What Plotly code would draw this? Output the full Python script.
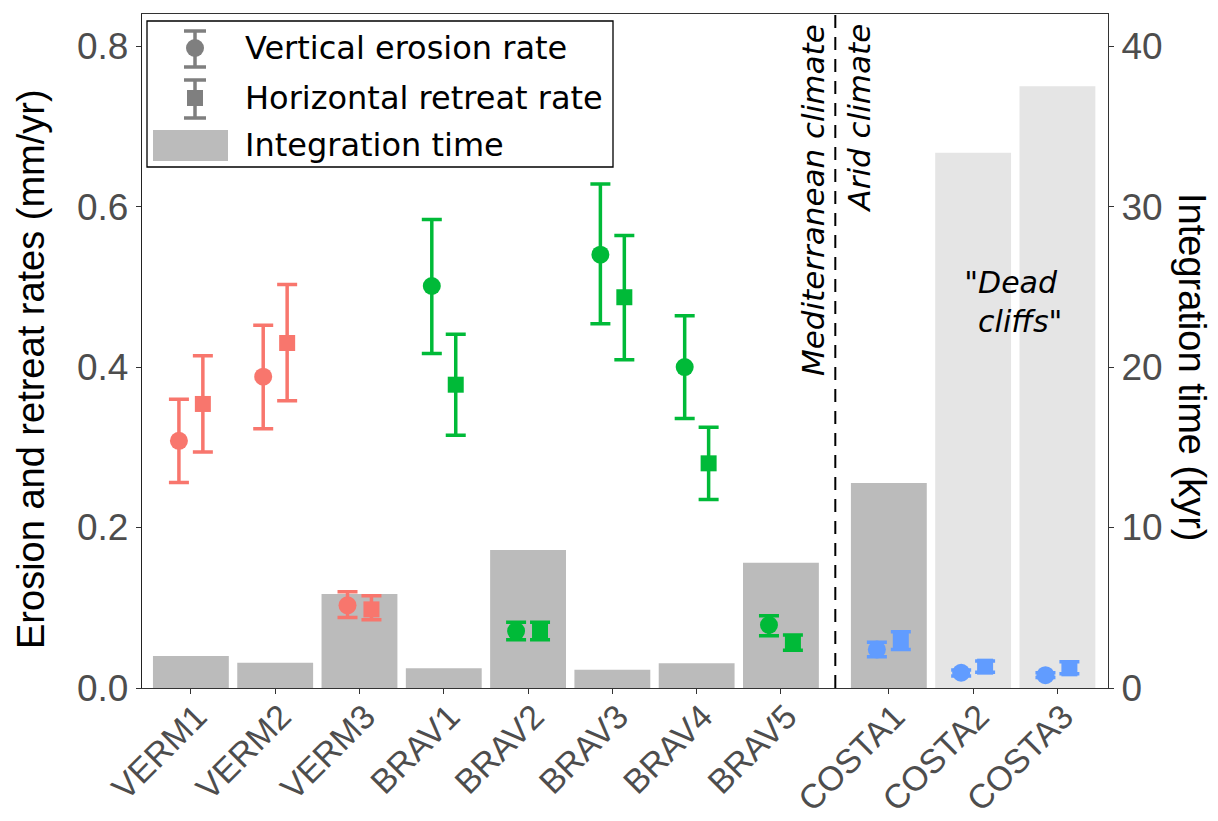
import plotly.graph_objects as go

# ---------------- data ----------------
sites = ["VERM1", "VERM2", "VERM3", "BRAV1", "BRAV2", "BRAV3", "BRAV4", "BRAV5",
         "COSTA1", "COSTA2", "COSTA3"]
area = ["VERM"] * 3 + ["BRAV"] * 5 + ["COSTA"] * 3
climate = ["Mediterranean"] * 8 + ["Arid"] * 3
dead_cliff = [False] * 9 + [True] * 2

integration_kyr = [1.99, 1.58, 5.86, 1.23, 8.6, 1.14, 1.54, 7.81, 12.77, 33.35, 37.5]

vertical_rate = [0.308, 0.388, 0.103, 0.501, 0.071, 0.540, 0.400, 0.0785, 0.048, 0.019, 0.016]
vertical_hi = [0.360, 0.452, 0.120, 0.584, 0.082, 0.628, 0.464, 0.090, 0.057, 0.0224, 0.019]
vertical_lo = [0.256, 0.323, 0.088, 0.417, 0.060, 0.454, 0.336, 0.065, 0.039, 0.015, 0.013]

horizontal_rate = [0.354, 0.430, 0.098, 0.378, 0.071, 0.487, 0.280, 0.0565, 0.0586, 0.0266, 0.0245]
horizontal_hi = [0.414, 0.503, 0.115, 0.441, 0.082, 0.564, 0.325, 0.066, 0.070, 0.0336, 0.0328]
horizontal_lo = [0.294, 0.358, 0.085, 0.315, 0.060, 0.409, 0.235, 0.047, 0.048, 0.0196, 0.0178]

left_ticks = [0.0, 0.2, 0.4, 0.6, 0.8]
right_ticks = [0, 10, 20, 30, 40]

# ---------------- styling / layout constants ----------------
area_colors = {"VERM": "#F8766D", "BRAV": "#00BA38", "COSTA": "#619CFF"}
ARID_GAP = 0.28
DODGE = 0.142
BAR_COLOR = "#BBBBBB"
DEAD_COLOR = "#E5E5E5"
AX_FONT = "Liberation Sans, Arial, sans-serif"
TXT_FONT = "DejaVu Sans, Verdana, sans-serif"

WIN_W, WIN_H = 1218, 821
BODY = 8  # default page margin of the html body
W, H = WIN_W - BODY, WIN_H - BODY
# panel edges in window pixels
PL, PR, PT, PB = 142, 1108, 14, 688

xpos = [i + (ARID_GAP if c == "Arid" else 0.0) for i, c in enumerate(climate)]
n_med = climate.count("Mediterranean")
divider_x = (xpos[n_med - 1] + xpos[n_med]) / 2 + 0.005

fig = go.Figure()

# bars (integration time, right axis -> yaxis 'y')
fig.add_trace(go.Bar(
    x=xpos, y=integration_kyr, width=0.9,
    marker=dict(color=[DEAD_COLOR if d else BAR_COLOR for d in dead_cliff], line=dict(width=0)),
    yaxis="y", showlegend=False, hoverinfo="skip",
))

# points with error bars (rates, left axis -> yaxis 'y2')
for grp, col in area_colors.items():
    idx = [i for i, a in enumerate(area) if a == grp]
    for rate, hi, lo, off, sym, size in [
        (vertical_rate, vertical_hi, vertical_lo, -DODGE, "circle", 18),
        (horizontal_rate, horizontal_hi, horizontal_lo, DODGE, "square", 16),
    ]:
        fig.add_trace(go.Scatter(
            x=[xpos[i] + off for i in idx],
            y=[rate[i] for i in idx],
            mode="markers",
            marker=dict(symbol=sym, size=size, color=col, line=dict(width=0)),
            error_y=dict(type="data", symmetric=False,
                         array=[hi[i] - rate[i] for i in idx],
                         arrayminus=[rate[i] - lo[i] for i in idx],
                         color=col, thickness=3.5, width=10),
            yaxis="y2", showlegend=False,
        ))


def px_x(px):
    return (px - PL) / (PR - PL)


def px_y(py):
    return (PB - py) / (PB - PT)


shapes = []
annotations = []

# climate divider
shapes.append(dict(type="line", xref="x", yref="paper", x0=divider_x, x1=divider_x, y0=0, y1=1,
                   line=dict(color="black", width=2, dash="13px,9px")))

# ---- manual legend ----
LEG_GRAY = "#7F7F7F"
shapes.append(dict(type="rect", xref="paper", yref="paper",
                   x0=px_x(147), x1=px_x(613), y0=px_y(167), y1=px_y(21),
                   line=dict(color="black", width=1.3), fillcolor="white", layer="above"))
for (ytop, ybot, yc, kind) in [(31, 67, 48, "circle"), (80, 118, 98, "square")]:
    shapes.append(dict(type="line", xref="paper", yref="paper",
                       x0=px_x(195), x1=px_x(195), y0=px_y(ybot), y1=px_y(ytop),
                       line=dict(color=LEG_GRAY, width=3.5)))
    for yy in (ytop, ybot):
        shapes.append(dict(type="line", xref="paper", yref="paper",
                           x0=px_x(184), x1=px_x(206), y0=px_y(yy), y1=px_y(yy),
                           line=dict(color=LEG_GRAY, width=3.5)))
    r = 9 if kind == "circle" else 8
    shapes.append(dict(type="circle" if kind == "circle" else "rect", xref="paper", yref="paper",
                       x0=px_x(195 - r), x1=px_x(195 + r), y0=px_y(yc + r), y1=px_y(yc - r),
                       fillcolor=LEG_GRAY, line=dict(width=0)))
shapes.append(dict(type="rect", xref="paper", yref="paper",
                   x0=px_x(153), x1=px_x(228), y0=px_y(161), y1=px_y(130),
                   fillcolor=BAR_COLOR, line=dict(width=0)))
for label, yc in [("Vertical erosion rate", 48), ("Horizontal retreat rate", 98),
                  ("Integration time", 145)]:
    annotations.append(dict(text=label, xref="paper", yref="paper", x=px_x(243), y=px_y(yc),
                            xanchor="left", yanchor="middle", showarrow=False,
                            font=dict(family=TXT_FONT, size=32, color="black")))

# climate labels
annotations.append(dict(text="<i>Mediterranean climate</i>", xref="paper", yref="paper",
                        x=px_x(813), y=px_y(22), xanchor="center", yanchor="top",
                        textangle=-90, showarrow=False,
                        font=dict(family=TXT_FONT, size=31, color="black")))
annotations.append(dict(text="<i>Arid climate</i>", xref="paper", yref="paper",
                        x=px_x(859), y=px_y(22), xanchor="center", yanchor="top",
                        textangle=-90, showarrow=False,
                        font=dict(family=TXT_FONT, size=31, color="black")))
annotations.append(dict(text="<i>\"Dead<br>  cliffs\"</i>", xref="paper", yref="paper",
                        x=px_x(1010), y=px_y(302), xanchor="center", yanchor="middle",
                        align="center", showarrow=False,
                        font=dict(family=TXT_FONT, size=30, color="black")))

# axis titles
annotations.append(dict(text="Erosion and retreat rates (mm/yr)", xref="paper", yref="paper",
                        x=px_x(31), y=px_y(369), xanchor="center", yanchor="middle",
                        textangle=-90, showarrow=False,
                        font=dict(family=AX_FONT, size=38, color="black")))
annotations.append(dict(text="Integration time (kyr)", xref="paper", yref="paper",
                        x=px_x(1192), y=px_y(367), xanchor="center", yanchor="middle",
                        textangle=90, showarrow=False,
                        font=dict(family=AX_FONT, size=38, color="black")))

fig.update_layout(
    width=W, height=H,
    margin=dict(l=PL - BODY, r=WIN_W - PR, t=PT - BODY, b=WIN_H - PB, pad=0, autoexpand=False),
    paper_bgcolor="white", plot_bgcolor="white",
    showlegend=False,
    shapes=shapes, annotations=annotations,
    xaxis=dict(range=[-0.58, 10.88], tickmode="array", tickvals=xpos, ticktext=sites,
               tickangle=-45, ticks="outside", ticklen=5, tickcolor="#333333",
               tickfont=dict(family=AX_FONT, size=34, color="#4D4D4D"),
               ticklabelshift=6, ticklabelstandoff=-11,
               showline=True, linecolor="#333333", linewidth=1.3, mirror=True,
               showgrid=False, zeroline=False, automargin=False),
    yaxis=dict(range=[0, 42], side="right", tickmode="array", tickvals=right_ticks,
               ticks="outside", ticklen=5, tickcolor="#333333",
               tickfont=dict(family=AX_FONT, size=37, color="#4D4D4D"),
               showline=True, linecolor="#333333", linewidth=1.3,
               showgrid=False, zeroline=False, automargin=False),
    yaxis2=dict(range=[0, 0.84], side="left", overlaying="y", tickmode="array",
                tickvals=left_ticks, tickformat=".1f",
                ticks="outside", ticklen=5, tickcolor="#333333",
                tickfont=dict(family=AX_FONT, size=37, color="#4D4D4D"),
                showline=True, linecolor="#222222", linewidth=1.3,
                showgrid=False, zeroline=False, automargin=False),
)

fig.write_html("out.html")
